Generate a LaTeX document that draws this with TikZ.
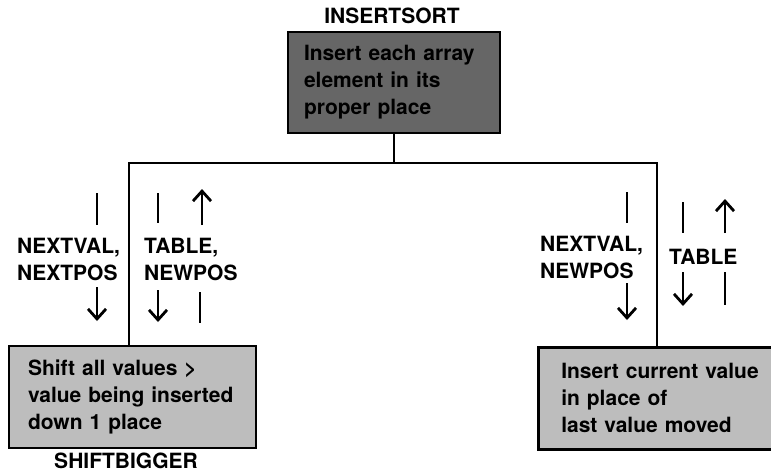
\documentclass[tikz,border=0pt]{standalone}
\usepackage{fontspec}
\setmainfont{TeX Gyre Heros}
\usetikzlibrary{arrows.meta}
\definecolor{darkbox}{gray}{0.40}
\definecolor{lightbox}{gray}{0.74}
\tikzset{
  lbl/.style={font=\fontsize{21}{27}\selectfont\bfseries, inner sep=0pt, align=left, anchor=north west},
  title/.style={font=\fontsize{21}{27}\selectfont\bfseries, inner sep=0pt},
  boxtext/.style={font=\fontsize{21}{27}\selectfont\bfseries, align=left, draw=black, line width=2.5pt, inner ysep=0pt},
  conn/.style={line width=2.2pt},
  bar/.style={line width=2.8pt},
  arr/.style={line width=2.8pt, -{Straight Barb[length=10pt,width=18pt]}},
}
\begin{document}
\begin{tikzpicture}[x=1pt,y=-1pt]
\path[clip] (0,0) rectangle (771,475);
% boxes
\node[boxtext, fill=darkbox, minimum width=212pt, minimum height=101pt, text width=180pt, inner xsep=16pt] (top) at (394,82.5)
  {Insert each array\\element in its\\proper place};
\node[title] (toplbl) at (392,16) {INSERTSORT};
\node[boxtext, fill=lightbox, minimum width=247pt, minimum height=102pt, text width=209pt, inner xsep=19pt] (left) at (132.5,397)
  {Shift all values >\\value being inserted\\down 1 place};
\node[title] (leftlbl) at (126,461) {SHIFTBIGGER};
\node[boxtext, fill=lightbox, minimum width=250pt, minimum height=102pt, text width=204pt, inner xsep=23pt, anchor=north west] (right) at (537,346)
  {Insert current value\\in place of\\last value moved};
% connectors
\coordinate (lj) at (129,163);
\coordinate (rj) at (657,163);
\draw[conn] (top.south) -- (top.south |- lj);
\draw[conn] (lj |- left.north) -- (lj) -- (rj) -- (rj |- right.north);
% left group labels
\node[lbl] (l1) at (17,237.5) {NEXTVAL,\\NEXTPOS};
\node[lbl] (l2) at (144,237.5) {TABLE,\\NEWPOS};
% left group arrows
\coordinate (a1s) at (97,193); \coordinate (a1e) at (97,225);
\draw[bar] (a1s) -- (a1e);
\coordinate (a2s) at (97,287); \coordinate (a2e) at (97,321);
\draw[arr] (a2s) -- (a2e);
\coordinate (a3s) at (158,193); \coordinate (a3e) at (158,223);
\draw[bar] (a3s) -- (a3e);
\coordinate (a4s) at (202,225); \coordinate (a4e) at (202,189);
\draw[arr] (a4s) -- (a4e);
\coordinate (a5s) at (158,290); \coordinate (a5e) at (158,322);
\draw[arr] (a5s) -- (a5e);
\coordinate (a6s) at (200,292); \coordinate (a6e) at (200,323);
\draw[bar] (a6s) -- (a6e);
% right group labels
\node[lbl] (r1) at (540,235.5) {NEXTVAL,\\NEWPOS};
\node[lbl] (r2) at (669,248.5) {TABLE};
% right group arrows
\coordinate (b1s) at (627,192); \coordinate (b1e) at (627,223);
\draw[bar] (b1s) -- (b1e);
\coordinate (b2s) at (627,283); \coordinate (b2e) at (627,320);
\draw[arr] (b2s) -- (b2e);
\coordinate (b3s) at (683,202); \coordinate (b3e) at (683,233);
\draw[bar] (b3s) -- (b3e);
\coordinate (b4s) at (725,233); \coordinate (b4e) at (725,199);
\draw[arr] (b4s) -- (b4e);
\coordinate (b5s) at (683,272); \coordinate (b5e) at (683,306);
\draw[arr] (b5s) -- (b5e);
\coordinate (b6s) at (725,272); \coordinate (b6e) at (725,305);
\draw[bar] (b6s) -- (b6e);
\end{tikzpicture}
\end{document}
